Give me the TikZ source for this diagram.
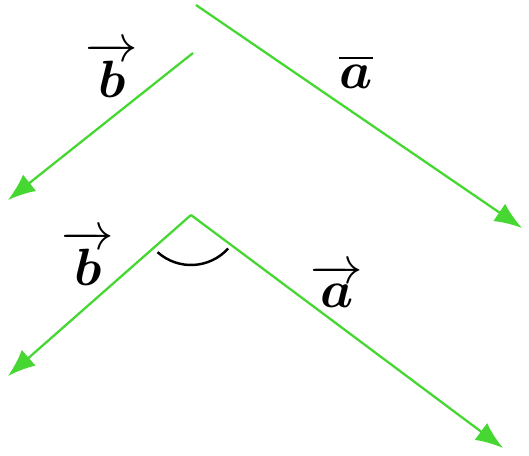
\documentclass[tikz,border=0pt]{standalone}
\usepackage{amsmath,amssymb,bm}
\usetikzlibrary{arrows.meta,positioning,calc}
\definecolor{vecgreen}{RGB}{70,215,50}
\tikzset{
  vec/.style={draw=vecgreen,line width=1.3pt,-{Latex[length=0.55cm,width=0.42cm]}},
  lbl/.style={font=\fontsize{24.88}{30}\selectfont,scale=1.2,inner sep=0pt},
  ang/.style={draw=black,line width=1.4pt}
}

\begin{document}
\begin{tikzpicture}[x=0.02cm,y=-0.02cm]
  \useasboundingbox (0,0) rectangle (529,456);
  % upper pair, apart
  \coordinate (a1) at (196,5);
  \coordinate (a2) at (522,228);
  \coordinate (b1) at (193,53);
  \coordinate (b2) at (8,200);
  \draw[vec] (a1)--(a2);
  \draw[vec] (b1)--(b2);
  \node[lbl] (la1) at (356,72) {$\overline{\bm a}$};
  \node[lbl] (lb1) at (112,70) {$\overrightarrow{\bm b}$};

  % lower pair, common start
  \coordinate (o) at (191,215);
  \coordinate (a3) at (503,448);
  \coordinate (b3) at (8,376);
  \draw[vec] (o)--(a3);
  \draw[vec] (o)--(b3);
  \draw[ang] (o) ++(132:50) arc[start angle=132,end angle=42,radius=50];
  \node[lbl] (lb2) at (88,258) {$\overrightarrow{\bm b}$};
  \node[lbl] (la2) at (337,286) {$\overrightarrow{\bm a}$};
\end{tikzpicture}
\end{document}
